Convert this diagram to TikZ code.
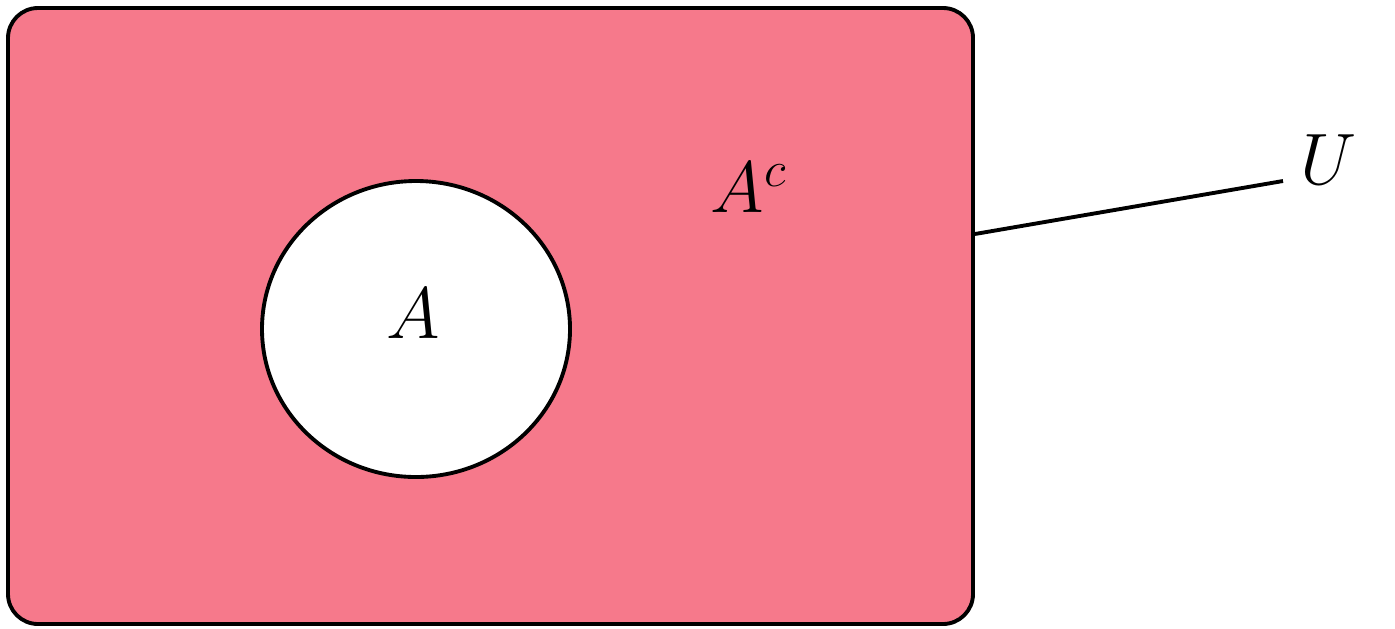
\documentclass[tikz,border=0pt]{standalone}
\usepackage{amsmath,amssymb}
\usepackage{xcolor}
\usetikzlibrary{positioning,calc,shapes.geometric}
\definecolor{setpink}{RGB}{246,121,139}
\begin{document}
\begin{tikzpicture}[line width=1.1pt,
  universe/.style={draw,fill=setpink,rounded corners=0.3cm,minimum width=9.65cm,minimum height=6.16cm,inner sep=0pt},
  setbox/.style={draw,fill=white,ellipse,minimum width=3.08cm,minimum height=2.96cm,inner sep=0pt},
  setlabel/.style={font=\huge}]
\useasboundingbox (0,0) rectangle (13.95,6.28);
\node[universe] (box) at (4.905,3.12) {};
\node[setbox] (setA) at (4.16,2.99) {};
\node[setlabel] (labA) at (4.13,3.14) {$A$};
\node[setlabel] (labAc) at (7.49,4.40) {$A^c$};
\node[setlabel] (labU) at (13.29,4.68) {$U$};
\coordinate (uend) at (12.83,4.47);
\draw ($(box.east)+(0,0.82)$) -- (uend);
\end{tikzpicture}
\end{document}
